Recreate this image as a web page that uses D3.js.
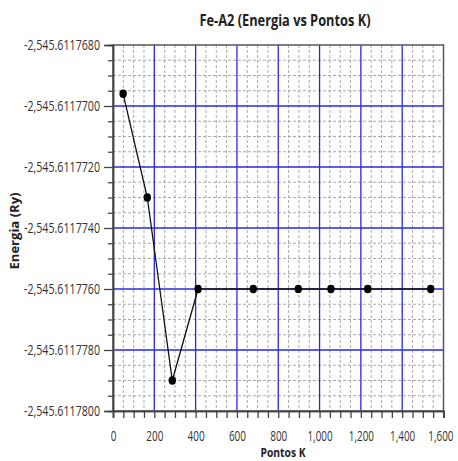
<!DOCTYPE html>
<html>
<head>
<meta charset="utf-8">
<script src="https://cdn.jsdelivr.net/npm/d3@7"></script>
<style>
  body { margin: 0; background: #fff; }
  text { font-family: 'Open Sans', sans-serif; }
</style>
</head>
<body>
<div id="chart"></div>
<script>
// chart data
const pontosK = [49, 166, 287, 412, 679, 897, 1055, 1233, 1538];
const energia = [
  -2545.6117696, -2545.611773, -2545.611779, -2545.611776, -2545.611776,
  -2545.611776, -2545.611776, -2545.611776, -2545.611776
];
const xTicks = [0, 200, 400, 600, 800, 1000, 1200, 1400, 1600];
const yTicks = [-2545.61178, -2545.611778, -2545.611776, -2545.611774, -2545.611772, -2545.61177, -2545.611768];

const width = 458;
const height = 461;
const margin = { top: 45, right: 14.5, bottom: 50, left: 113 };
const innerW = width - margin.left - margin.right;
const innerH = height - margin.top - margin.bottom;

const loc = d3.formatLocale({ decimal: '.', thousands: ',', grouping: [3], currency: ['', ''], minus: '-' });
const fmtY = loc.format(',.7f');
const fmtX = loc.format(',');

const svg = d3.select('#chart')
  .append('svg')
  .attr('width', width)
  .attr('height', height);

const g = svg.append('g')
  .attr('transform', 'translate(' + margin.left + ',' + margin.top + ')');

const x = d3.scaleLinear().domain([0, 1600]).range([0, innerW]);
const y = d3.scaleLinear().domain([yTicks[0], yTicks[yTicks.length - 1]]).range([innerH, 0]);

// minor grid (every 50 in x, every quarter step in y)
const xMinor = d3.range(0, 1601, 50).filter(d => d % 200 !== 0);
const yMinor = [];
for (let i = 0; i < yTicks.length - 1; i++) {
  for (let k = 1; k < 4; k++) yMinor.push(yTicks[i] + (yTicks[i + 1] - yTicks[i]) * k / 4);
}

g.selectAll('.vminor').data(xMinor).enter().append('line')
  .attr('x1', d => x(d)).attr('x2', d => x(d))
  .attr('y1', 0).attr('y2', innerH)
  .style('stroke', '#aaa').style('stroke-width', 1).style('stroke-dasharray', '3,2');

g.selectAll('.hminor').data(yMinor).enter().append('line')
  .attr('x1', 0).attr('x2', innerW)
  .attr('y1', d => y(d)).attr('y2', d => y(d))
  .style('stroke', '#aaa').style('stroke-width', 1).style('stroke-dasharray', '3,2');

// major grid
g.selectAll('.vmajor').data(xTicks.slice(1, -1)).enter().append('line')
  .attr('x1', d => x(d)).attr('x2', d => x(d))
  .attr('y1', 0).attr('y2', innerH)
  .style('stroke', '#2828e0').style('stroke-width', 1.3);

g.selectAll('.hmajor').data(yTicks.slice(1, -1)).enter().append('line')
  .attr('x1', 0).attr('x2', innerW)
  .attr('y1', d => y(d)).attr('y2', d => y(d))
  .style('stroke', '#2828e0').style('stroke-width', 1.3);

// frame
g.append('rect')
  .attr('width', innerW).attr('height', innerH)
  .style('fill', 'none').style('stroke', '#555').style('stroke-width', 1.5);

// axes
const yAxis = g.append('g')
  .call(d3.axisLeft(y).tickValues(yTicks).tickFormat(fmtY).tickSize(9).tickPadding(4));
g.append('g')
  .call(d3.axisLeft(y).tickValues(yMinor).tickFormat('').tickSize(5));

const xAxis = g.append('g')
  .attr('transform', 'translate(0,' + innerH + ')')
  .call(d3.axisBottom(x).tickValues(xTicks).tickFormat(fmtX).tickSize(7).tickPadding(13));
g.append('g')
  .attr('transform', 'translate(0,' + innerH + ')')
  .call(d3.axisBottom(x).tickValues(xMinor).tickFormat('').tickSize(7));

g.selectAll('.domain').style('stroke', '#444').style('stroke-width', 1.5);
g.selectAll('.tick line').style('stroke', '#444').style('stroke-width', 1.3);
g.selectAll('.tick text')
  .style('font-size', '14px').style('fill', '#333')
  .style('font-family', "'Open Sans', sans-serif");
yAxis.selectAll('.tick text').attr('textLength', 76).attr('lengthAdjust', 'spacingAndGlyphs');
xAxis.selectAll('.tick text').each(function (d) {
  const t = d3.select(this);
  const s = t.text();
  const commas = (s.match(/,/g) || []).length;
  t.attr('textLength', (s.length - commas) * 5.7 + commas * 2.4).attr('lengthAdjust', 'spacingAndGlyphs');
  // keep the last label inside the picture
  if (d === 1600) t.attr('text-anchor', 'end').attr('dx', 9.5);
});

// data line
const data = pontosK.map((d, i) => [d, energia[i]]);
g.append('path')
  .datum(data)
  .attr('d', d3.line().x(d => x(d[0])).y(d => y(d[1])))
  .style('fill', 'none').style('stroke', '#111').style('stroke-width', 1.3);

g.selectAll('.pt').data(data).enter().append('ellipse')
  .attr('cx', d => x(d[0])).attr('cy', d => y(d[1]))
  .attr('rx', 3.7).attr('ry', 4.2)
  .style('fill', '#000');

// titles
svg.append('text')
  .text('Fe-A2 (Energia vs Pontos K)')
  .attr('x', 285).attr('y', 26)
  .attr('text-anchor', 'middle')
  .attr('textLength', 171).attr('lengthAdjust', 'spacingAndGlyphs')
  .style('font-size', '16px').style('font-weight', 'bold').style('fill', '#222');

svg.append('text')
  .text('Pontos K')
  .attr('x', 283).attr('y', 457)
  .attr('text-anchor', 'middle')
  .attr('textLength', 45).attr('lengthAdjust', 'spacingAndGlyphs')
  .style('font-size', '13px').style('font-weight', 'bold').style('fill', '#222');

svg.append('text')
  .text('Energia (Ry)')
  .attr('transform', 'translate(19,231) rotate(-90)')
  .attr('text-anchor', 'middle')
  .attr('textLength', 77).attr('lengthAdjust', 'spacingAndGlyphs')
  .style('font-size', '13px').style('font-weight', 'bold').style('fill', '#222');
</script>
</body>
</html>
